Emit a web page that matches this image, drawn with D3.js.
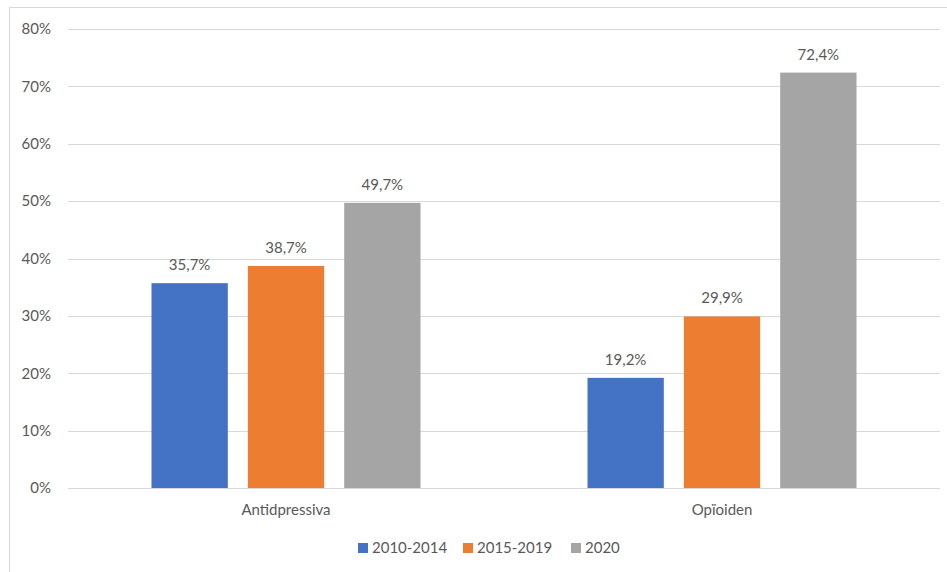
<html>
<head>
<script src="https://d3js.org/d3.v7.min.js"></script>
<style>
    body { margin: 0; background: #fff; }
    svg text { font-family: Lato, "Open Sans", sans-serif; fill: #595959; }
    .grid line { stroke: #d9d9d9; }
</style>
</head>
<body>
<svg id='chart' width=947 height=572></svg>
<script>

    var categories = ['Antidpressiva', 'Opïoiden'];
    var seriesNames = ['2010-2014', '2015-2019', '2020'];
    var seriesColors = ['#4472c4', '#ed7d31', '#a5a5a5'];
    var values = [
        [35.7, 38.7, 49.7],   // Antidpressiva
        [19.2, 29.9, 72.4]    // Opïoiden
    ];
    var yTicks = [0, 10, 20, 30, 40, 50, 60, 70, 80];

    var svg = d3.select('#chart');

    // outer frame (runs off the right and bottom edge)
    svg.append('rect')
        .attr('x', 9.5).attr('y', 7.5)
        .attr('width', 960).attr('height', 600)
        .attr('fill', 'none')
        .attr('stroke', '#d9d9d9');

    var plotLeft = 68, plotRight = 940, plotTop = 29, plotBottom = 488;

    var y = d3.scaleLinear().domain([0, 80]).range([plotBottom, plotTop]);

    var x0 = d3.scaleBand()
        .domain(categories)
        .range([plotLeft, plotRight])
        .paddingInner(0.383)
        .paddingOuter(0.1915);

    var x1 = d3.scaleBand()
        .domain(seriesNames)
        .range([0, x0.bandwidth()])
        .paddingInner(0.208)
        .paddingOuter(0);

    // gridlines
    svg.append('g').attr('class', 'grid')
        .selectAll('line')
        .data(yTicks)
      .enter().append('line')
        .attr('x1', plotLeft).attr('x2', plotRight)
        .attr('y1', function(d) { return Math.round(y(d)) + 0.5; })
        .attr('y2', function(d) { return Math.round(y(d)) + 0.5; });

    // y tick labels
    var yAxis = d3.axisLeft(y)
        .tickValues(yTicks)
        .tickFormat(function(d) { return d + '%'; })
        .tickSize(0)
        .tickPadding(17);

    var yg = svg.append('g')
        .attr('transform', 'translate(' + plotLeft + ',0)')
        .call(yAxis);
    yg.select('.domain').remove();
    yg.selectAll('text')
        .style('font-size', '15px')
        .style('font-family', 'Lato, "Open Sans", sans-serif')
        .attr('fill', '#595959');

    // bars
    var groups = svg.selectAll('.group')
        .data(values)
      .enter().append('g')
        .attr('class', 'group')
        .attr('transform', function(d, i) { return 'translate(' + x0(categories[i]) + ',0)'; });

    groups.selectAll('rect')
        .data(function(d) { return d; })
      .enter().append('rect')
        .attr('x', function(d, i) { return x1(seriesNames[i]); })
        .attr('y', function(d) { return y(d); })
        .attr('width', x1.bandwidth())
        .attr('height', function(d) { return y(0) - y(d); })
        .attr('fill', function(d, i) { return seriesColors[i]; });

    groups.selectAll('.val')
        .data(function(d) { return d; })
      .enter().append('text')
        .attr('class', 'val')
        .attr('x', function(d, i) { return x1(seriesNames[i]) + x1.bandwidth() / 2; })
        .attr('y', function(d) { return y(d) - 13; })
        .attr('text-anchor', 'middle')
        .style('font-size', '15px')
        .text(function(d) { return d.toFixed(1).replace('.', ',') + '%'; });

    // category labels
    svg.selectAll('.cat')
        .data(categories)
      .enter().append('text')
        .attr('class', 'cat')
        .attr('x', function(d) { return x0(d) + x0.bandwidth() / 2; })
        .attr('y', 515)
        .attr('text-anchor', 'middle')
        .style('font-size', '15px')
        .text(function(d) { return d; });

    // legend
    var legendX = [358, 463, 571];
    var legend = svg.selectAll('.legend')
        .data(seriesNames)
      .enter().append('g')
        .attr('class', 'legend')
        .attr('transform', function(d, i) { return 'translate(' + legendX[i] + ',543)'; });

    legend.append('rect')
        .attr('width', 10).attr('height', 10)
        .attr('fill', function(d, i) { return seriesColors[i]; });

    legend.append('text')
        .attr('x', 14).attr('y', 10)
        .style('font-size', '15px')
        .text(function(d) { return d; });

</script>
</body>
</html>
